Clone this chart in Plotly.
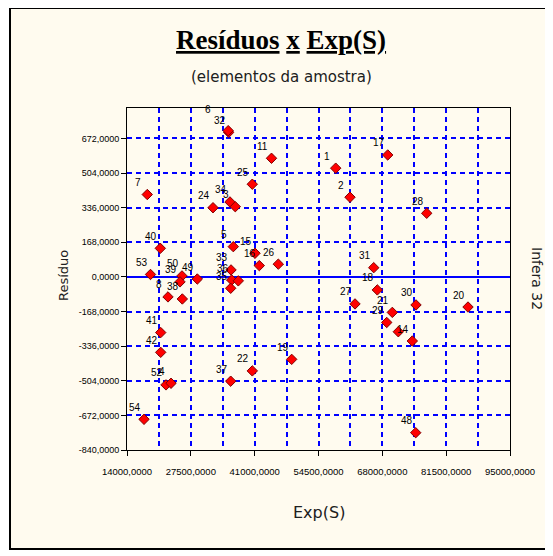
import plotly.graph_objects as go

# ---- data ----
labels = ["32", "6", "11", "25", "7", "24", "34", "3", "5", "15", "16", "26",
          "40", "53", "50", "39", "49", "8", "38", "33", "36", "35", "",
          "41", "42", "52", "4", "37", "22", "54",
          "1", "17", "2", "28", "31", "18", "27", "30", "20", "21", "29", "",
          "14", "19", "48"]
exp_s = [35510, 35400, 44560, 40500, 18290, 32190, 35780, 36900, 36480, 41070, 41980, 46000,
         21040, 18970, 25630, 25210, 28870, 22670, 25700, 36000, 36140, 35930, 37540,
         21130, 21130, 22250, 23310, 35930, 40500, 17600,
         58140, 69140, 61160, 77390, 66180, 66940, 62220, 75120, 86120, 70110, 68930, 71380,
         74340, 48830, 75060]
residuos = [702, 710, 576, 450, 400, 336, 364, 341, 147, 115, 55, 62,
            139, 12, 5, -24, -10, -97, -107, 34, -15, -55, -19,
            -270, -366, -524, -516, -506, -456, -691,
            528, 592, 387, 309, 45, -63, -131, -136, -146, -172, -221, -266,
            -311, -400, -756]

x_ticks = [14000, 27500, 41000, 54500, 68000, 81500, 95000]
x_ticktext = ["14000,0000", "27500,0000", "41000,0000", "54500,0000",
              "68000,0000", "81500,0000", "95000,0000"]
y_ticks = [-840, -672, -504, -336, -168, 0, 168, 336, 504, 672]
y_ticktext = ["-840,0000", "-672,0000", "-504,0000", "-336,0000", "-168,0000",
              "0,0000", "168,0000", "336,0000", "504,0000", "672,0000"]

title_text = "<u>Resíduos</u> <u>x</u> <u>Exp(S)</u>"
subtitle_text = "(elementos da amostra)"
x_title = "Exp(S)"
y_title = "Resíduo"
right_text = "Infera 32"

# ---- layout geometry (page pixels; the page body adds an 8px margin) ----
OFF = 8
W, H = 553 - OFF, 556 - OFF
PL, PR, PT, PB = 127, 510, 108, 450          # plot area in page pixels
L, T = PL - OFF, PT - OFF
R, B = W - (PR - OFF), H - (PB - OFF)
pw, ph = PR - PL, PB - PT


def px_to_paper_x(px):
    return (px - PL) / pw


def px_to_paper_y(py):
    return (PB - py) / ph


blue = "#0000FF"
fig = go.Figure()
fig.add_trace(go.Scatter(
    x=exp_s, y=residuos, mode="markers",
    marker=dict(symbol="diamond", size=8, color="#FF0000",
                line=dict(color="#800000", width=1)),
    hoverinfo="x+y", showlegend=False,
))

annotations = []
for lab, xv, yv in zip(labels, exp_s, residuos):
    if not lab:
        continue
    xs, ys = (-20, 21) if lab == "6" else (-9, 12)
    annotations.append(dict(x=xv, y=yv, xref="x", yref="y", text=lab, showarrow=False,
                            xanchor="center", yanchor="middle",
                            xshift=xs, yshift=ys,
                            font=dict(family="Liberation Sans, Arial", size=10, color="black")))

annotations += [
    dict(x=px_to_paper_x(281), y=px_to_paper_y(40), xref="paper", yref="paper",
         xanchor="center", yanchor="middle",
         text="<b>" + title_text + "</b>", showarrow=False,
         font=dict(family="Liberation Serif, Times New Roman", size=27, color="black")),
    dict(x=px_to_paper_x(281), y=px_to_paper_y(77), xref="paper", yref="paper",
         xanchor="center", yanchor="middle",
         text=subtitle_text, showarrow=False,
         font=dict(family="DejaVu Sans, Verdana", size=15, color="#202020")),
    dict(x=0.5, y=px_to_paper_y(512), xref="paper", yref="paper",
         xanchor="center", yanchor="middle",
         text=x_title, showarrow=False,
         font=dict(family="DejaVu Sans, Verdana", size=16, color="#202020")),
    dict(x=px_to_paper_x(63), y=px_to_paper_y(276), xref="paper", yref="paper",
         xanchor="center", yanchor="middle",
         text=y_title, showarrow=False, textangle=-90,
         font=dict(family="DejaVu Sans, Verdana", size=13, color="#202020")),
    dict(x=px_to_paper_x(537), y=px_to_paper_y(278), xref="paper", yref="paper",
         xanchor="center", yanchor="middle",
         text=right_text, showarrow=False, textangle=90,
         font=dict(family="DejaVu Sans, Verdana", size=14, color="#202020")),
]

shapes = [
    dict(type="rect", xref="paper", yref="paper", layer="below",
         x0=px_to_paper_x(10), x1=px_to_paper_x(546),
         y0=px_to_paper_y(549), y1=px_to_paper_y(8),
         fillcolor="#FFFBEF", line=dict(color="black", width=2)),
]

fig.update_layout(
    width=W, height=H,
    margin=dict(l=L, r=R, t=T, b=B, autoexpand=False),
    paper_bgcolor="white", plot_bgcolor="white",
    annotations=annotations, shapes=shapes,
    font=dict(family="Liberation Sans, Arial", size=9, color="black"),
)
fig.update_xaxes(
    range=[14000, 95000], tickvals=x_ticks, ticktext=x_ticktext,
    showline=True, mirror=True, linecolor="black", linewidth=1,
    ticks="outside", ticklen=5, tickcolor="black", ticklabelstandoff=8,
    showgrid=True, gridcolor=blue, griddash="5px,4px", gridwidth=1.5,
    minor=dict(dtick=6750, tick0=14000, showgrid=True, gridcolor=blue,
               griddash="5px,4px", gridwidth=1.5, ticks=""),
    zeroline=False, tickfont=dict(size=9.5),
)
fig.update_yaxes(
    range=[-840, 820], tickvals=y_ticks, ticktext=y_ticktext,
    showline=True, mirror=True, linecolor="black", linewidth=1,
    ticks="outside", ticklen=5, tickcolor="black",
    showgrid=True, gridcolor=blue, griddash="5px,4px", gridwidth=1.5,
    zeroline=True, zerolinecolor=blue, zerolinewidth=1.5,
    tickfont=dict(size=9),
)

fig.write_html("out.html")
